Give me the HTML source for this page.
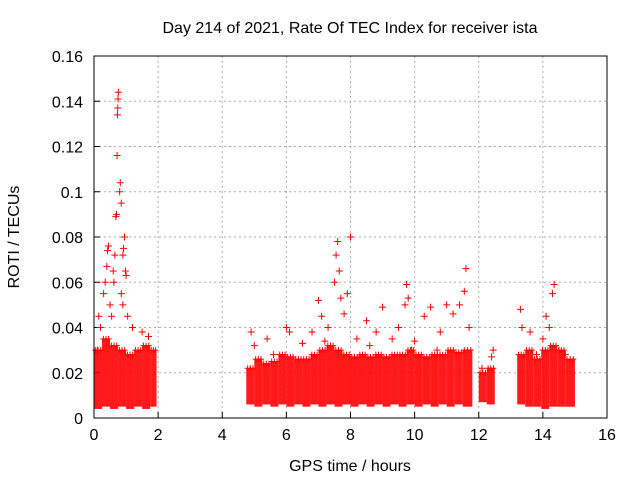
<!DOCTYPE html>
<html><head><meta charset="utf-8"><style>
body{margin:0;background:#fff}
svg{display:block;font-family:"Liberation Sans",sans-serif}
</style></head><body>
<svg id="c" width="640" height="480">
<text x="350" y="33" font-size="16" text-anchor="middle">Day 214 of 2021, Rate Of TEC Index for receiver ista</text>
<text x="350" y="471" font-size="16" text-anchor="middle">GPS time / hours</text>
<text transform="translate(19,237) rotate(-90)" font-size="16" text-anchor="middle">ROTI / TECUs</text>
</svg>
<script>
const xTicks=[0,2,4,6,8,10,12,14,16];
const yTicks=[0,0.02,0.04,0.06,0.08,0.1,0.12,0.14,0.16];
const yTickLabels=["0","0.02","0.04","0.06","0.08","0.1","0.12","0.14","0.16"];
const binStart=[0,0.25,0.5,0.75,1.0,1.25,1.5,1.75,
4.75,5.0,5.25,5.5,5.75,6.0,6.25,6.5,6.75,7.0,7.25,7.5,7.75,8.0,8.25,8.5,8.75,9.0,9.25,9.5,9.75,10.0,10.25,10.5,10.75,11.0,11.25,11.5,
12.0,12.25,13.2,13.45,13.7,13.95,14.2,14.45,14.7];
const binEnd=[0.25,0.5,0.75,1.0,1.25,1.5,1.75,1.95,
5.0,5.25,5.5,5.75,6.0,6.25,6.5,6.75,7.0,7.25,7.5,7.75,8.0,8.25,8.5,8.75,9.0,9.25,9.5,9.75,10.0,10.25,10.5,10.75,11.0,11.25,11.5,11.8,
12.25,12.5,13.45,13.7,13.95,14.2,14.45,14.7,15.0];
const binLo=[0.004,0.005,0.004,0.005,0.004,0.005,0.004,0.005,
0.006,0.005,0.006,0.005,0.006,0.005,0.006,0.005,0.006,0.005,0.006,0.005,0.006,0.005,0.006,0.005,0.006,0.005,0.006,0.005,0.006,0.005,0.006,0.005,0.006,0.005,0.006,0.005,
0.007,0.006,0.006,0.005,0.005,0.004,0.005,0.005,0.005];
const binHi=[0.030,0.035,0.032,0.030,0.028,0.030,0.032,0.030,
0.022,0.026,0.024,0.025,0.028,0.027,0.026,0.026,0.028,0.030,0.032,0.030,0.028,0.027,0.028,0.027,0.028,0.027,0.028,0.028,0.030,0.028,0.027,0.028,0.028,0.030,0.029,0.030,
0.020,0.022,0.028,0.030,0.026,0.030,0.032,0.030,0.026];
const ptX=[0.1,0.15,0.3,0.35,0.4,0.42,0.45,0.5,0.55,0.6,0.62,0.65,0.68,0.7,0.72,0.73,0.74,0.75,0.76,0.8,0.82,0.85,0.9,0.92,0.95,0.98,1.0,1.05,0.85,0.9,1.2,1.5,1.7,0.2,
4.9,5.0,5.4,5.6,6.0,6.1,6.5,6.8,7.0,7.1,7.3,7.5,7.55,7.6,7.65,7.7,7.8,7.9,8.0,8.2,8.5,8.8,9.0,9.3,9.5,9.7,9.75,9.8,10.0,10.3,10.5,10.8,11.0,11.2,11.4,11.55,11.6,11.7,7.2,8.6,9.9,10.7,
12.1,12.4,12.45,13.3,13.35,13.6,13.8,14.0,14.1,14.2,14.3,14.35,14.5,14.7];
const ptY=[0.03,0.045,0.055,0.06,0.067,0.074,0.076,0.05,0.045,0.065,0.06,0.072,0.089,0.09,0.116,0.134,0.137,0.141,0.144,0.1,0.104,0.095,0.072,0.075,0.08,0.065,0.063,0.045,0.055,0.05,0.04,0.038,0.036,0.04,
0.038,0.032,0.035,0.028,0.04,0.038,0.033,0.038,0.052,0.045,0.04,0.06,0.072,0.078,0.065,0.053,0.046,0.055,0.08,0.035,0.043,0.038,0.049,0.035,0.04,0.05,0.059,0.053,0.034,0.045,0.049,0.038,0.05,0.046,0.05,0.056,0.066,0.04,0.034,0.032,0.03,0.03,
0.022,0.027,0.03,0.048,0.04,0.038,0.028,0.035,0.045,0.04,0.055,0.059,0.03,0.028];
const L=94,R=607,T=56,B=418;
const X=v=>L+(v-0)/(16-0)*(R-L);
const Y=v=>B-(v-0)/(0.16-0)*(B-T);
const NS="http://www.w3.org/2000/svg",svg=document.getElementById('c');
function mk(t,a){const e=document.createElementNS(NS,t);for(const k in a)e.setAttribute(k,a[k]);svg.appendChild(e);return e;}
xTicks.forEach((v,i)=>{
 if(i>0&&i<xTicks.length-1){const g=mk('line',{x1:X(v),x2:X(v),y1:T,y2:B,stroke:'#aaa','stroke-dasharray':'2,3'});
 
 }
 const tk=mk('line',{x1:X(v),x2:X(v),y1:B,y2:B-6,stroke:'#000'});
 
 
 const t=mk('text',{x:X(v),y:B+22,'font-size':16,'text-anchor':'middle'});t.textContent=v;
 
 
});
yTicks.forEach((v,i)=>{
 if(i>0&&i<yTicks.length-1){const g=mk('line',{x1:L,x2:R,y1:Y(v),y2:Y(v),stroke:'#aaa','stroke-dasharray':'2,3'});
 
 }
 const tk=mk('line',{x1:L,x2:L+6,y1:Y(v),y2:Y(v),stroke:'#000'});
 
 
 const t=mk('text',{x:L-11,y:Y(v)+6,'font-size':16,'text-anchor':'end'});t.textContent=yTickLabels[i];
 
 
});
binStart.forEach((s,i)=>{
 const r=mk('rect',{x:X(s),y:Y(binHi[i]),width:X(binEnd[i])-X(s),height:Y(binLo[i])-Y(binHi[i]),fill:'#f00','fill-opacity':0.9});
 
 
 for(let k=0;k<3;k++){
  const xx=X(s+(binEnd[i]-s)*(k+0.5)/3),yy=Y(binHi[i]);
  const p=mk('path',{d:`M${xx-3},${yy}h6M${xx},${yy-3}v6`,stroke:'#f00','stroke-width':1});
  
  
 }
});
ptX.forEach((v,i)=>{
 const xx=X(v),yy=Y(ptY[i]);
 const p=mk('path',{d:`M${xx-3.5},${yy}h7M${xx},${yy-3.5}v7`,stroke:'#f00','stroke-width':1});
 
 
});
const f=mk('rect',{x:L,y:T,width:R-L,height:B-T,fill:'none',stroke:'#000'});


</script>
</body></html>
